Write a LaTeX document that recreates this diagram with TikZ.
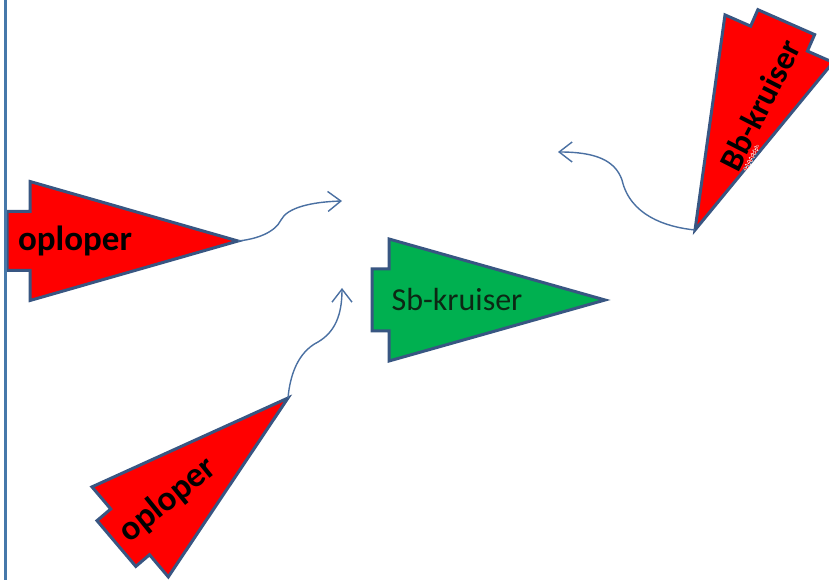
\documentclass[tikz,border=0pt]{standalone}
\usepackage{fontspec}
\setmainfont{Carlito}
\usetikzlibrary{arrows.meta,decorations.pathmorphing}
\definecolor{edgeblue}{RGB}{56,86,130}
\definecolor{wireblue}{RGB}{74,112,162}
\definecolor{frameblue}{RGB}{70,120,170}
\definecolor{shipred}{RGB}{255,0,0}
\definecolor{shipgreen}{RGB}{0,176,80}
\definecolor{sbtext}{RGB}{12,40,20}
\begin{document}
\begin{tikzpicture}[x=1pt,y=1pt,
  ship/.style={draw=edgeblue, line width=3pt, line join=miter},
  wave/.style={draw=wireblue, line width=1.4pt,
    -{Straight Barb[length=13pt,width=20pt,line width=1.4pt]}},
  boldlbl/.style={font=\bfseries\fontsize{35}{40}\selectfont, text=black, inner sep=0pt},
  plainlbl/.style={font=\fontsize{32}{38}\selectfont, text=sbtext, inner sep=0pt},
  squiggle/.style={decorate, decoration={snake, amplitude=1.3pt, segment length=4pt}}]
\useasboundingbox (0,0) rectangle (829,580);
\clip (0,0) rectangle (829,580);
\fill[white] (0,0) rectangle (829,580);

% left oploper
\begin{scope}[shift={(238,339)}]
  \draw[ship, fill=shipred] (0,0) -- (-208,59.5) -- (-208,29.5) -- (-231,29.5)
    -- (-231,-29.5) -- (-208,-29.5) -- (-208,-59.5) -- cycle;
  \coordinate (tipA) at (0,0);
\end{scope}
\node[boldlbl] (labA) at (75,339) {oploper};

% Sb-kruiser
\begin{scope}[shift={(605,280)}]
  \draw[ship, fill=shipgreen] (0,0) -- (-216,61) -- (-216,31) -- (-233,31)
    -- (-233,-31) -- (-216,-31) -- (-216,-61) -- cycle;
\end{scope}
\node[plainlbl] (labS) at (457,280) {Sb-kruiser};

% bottom oploper
\begin{scope}[shift={(288,182)}, rotate=40.3]
  \draw[ship, fill=shipred] (0,0) -- (-207,59) -- (-207,30) -- (-225,30)
    -- (-225,-30) -- (-207,-30) -- (-207,-59) -- cycle;
  \coordinate (tipC) at (0,0);
\end{scope}
\node[boldlbl, rotate=39] (labC) at (168,80) {oploper};

% Bb-kruiser
\begin{scope}[shift={(695,350)}, rotate=246.3]
  \draw[ship, fill=shipred] (0,0) -- (-209,59) -- (-209,31) -- (-227,31)
    -- (-227,-31) -- (-209,-31) -- (-209,-59) -- cycle;
  \coordinate (tipB) at (0,0);
\end{scope}
\node[boldlbl, font=\bfseries\fontsize{33}{38}\selectfont, rotate=63] (labB) at (760,475) {Bb-kruiser};
% spell-check underline under "Bb"
\begin{scope}[shift={(labB.base west)}, rotate=63]
  \coordinate (sqA) at (6,-5);
  \coordinate (sqB) at (34,-5);
  \draw[squiggle, white, line width=1.8pt] (sqA) -- (sqB);
  \draw[squiggle, red!85!black, line width=0.7pt] (sqA) -- (sqB);
\end{scope}

% arrow end points
\coordinate (endA) at (342,379);
\coordinate (endB) at (558,428);
\coordinate (endC) at (342,292);

\draw[wave] (tipA) .. controls (258,341) and (275,348) .. (281,360)
  .. controls (287,372) and (310,378) .. (endA);
\draw[wave] (tipB) .. controls (665,353) and (630,365) .. (622,400)
  .. controls (615,420) and (595,428) .. (endB);
\draw[wave] (tipC) .. controls (290,205) and (298,228) .. (318,238)
  .. controls (335,248) and (342,265) .. (endC);

% frame line
\coordinate (frameTop) at (5.5,580);
\coordinate (frameBot) at (5.5,0);
\draw[frameblue, line width=2.5pt] (frameBot) -- (frameTop);
\end{tikzpicture}
\end{document}
